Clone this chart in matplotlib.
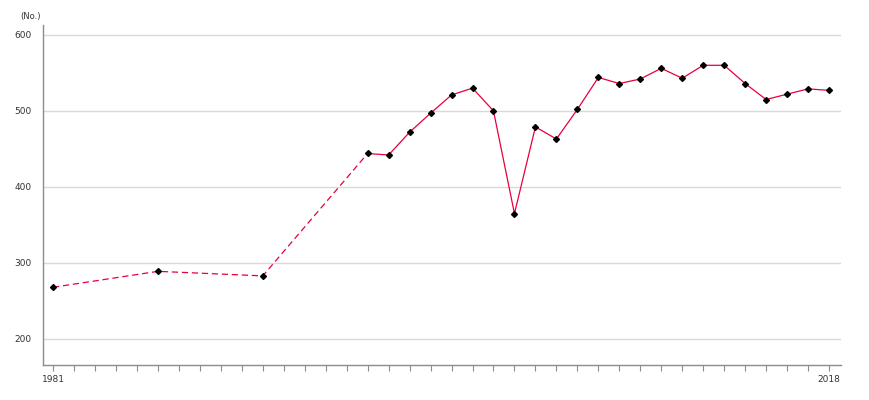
import matplotlib.pyplot as plt
import numpy as np

# values
years_early = [1981, 1986, 1991, 1996]
values_early = [268, 289, 283, 444]

years = list(range(1996, 2019))
values = [444, 442, 472, 497, 521, 530, 500, 365, 479, 463, 502,
          544, 536, 542, 556, 543, 560, 560, 536, 515, 522, 529, 527]

yticks = [200, 300, 400, 500, 600]
xlabels = {1981: "1981", 2018: "2018"}

line_col = "#e8003c"
grey = "#8c8c8c"

fig = plt.figure(figsize=(8.7, 4.0), dpi=100)
ax = fig.add_axes([43 / 870, 1 - 365 / 400, (841 - 43) / 870, (365 - 25) / 400])

ax.plot(years_early, values_early, color=line_col, lw=0.9, ls=(0, (5, 3)), zorder=2)
ax.plot(years, values, color=line_col, lw=0.9, zorder=2)
ax.plot(years_early[:-1] + years, values_early[:-1] + values, ls="none",
        marker="D", ms=3, color="black", zorder=3)

ax.set_xlim(1980.52, 2018.57)
ax.set_ylim(165.8, 613)

ax.set_yticks(yticks)
ax.set_yticklabels([str(v) for v in yticks])
ax.set_xticks(np.arange(1981, 2019))
ax.set_xticklabels([xlabels.get(y, "") for y in range(1981, 2019)])

ax.grid(axis="y", color="#d9d9d9", lw=1)
ax.set_axisbelow(True)
for s in ["top", "right"]:
    ax.spines[s].set_visible(False)
for s in ["left", "bottom"]:
    ax.spines[s].set_color(grey)
    ax.spines[s].set_linewidth(1)

ax.tick_params(axis="y", length=0, pad=8, labelsize=6.5, labelcolor="#333333")
ax.tick_params(axis="x", length=4, color=grey, pad=3, labelsize=6.5, labelcolor="#333333")

fig.text(20 / 870, 1 - 17 / 400, "(No.)", fontsize=6, color="#333333", va="center")

fig.savefig("out.png", dpi=100)
